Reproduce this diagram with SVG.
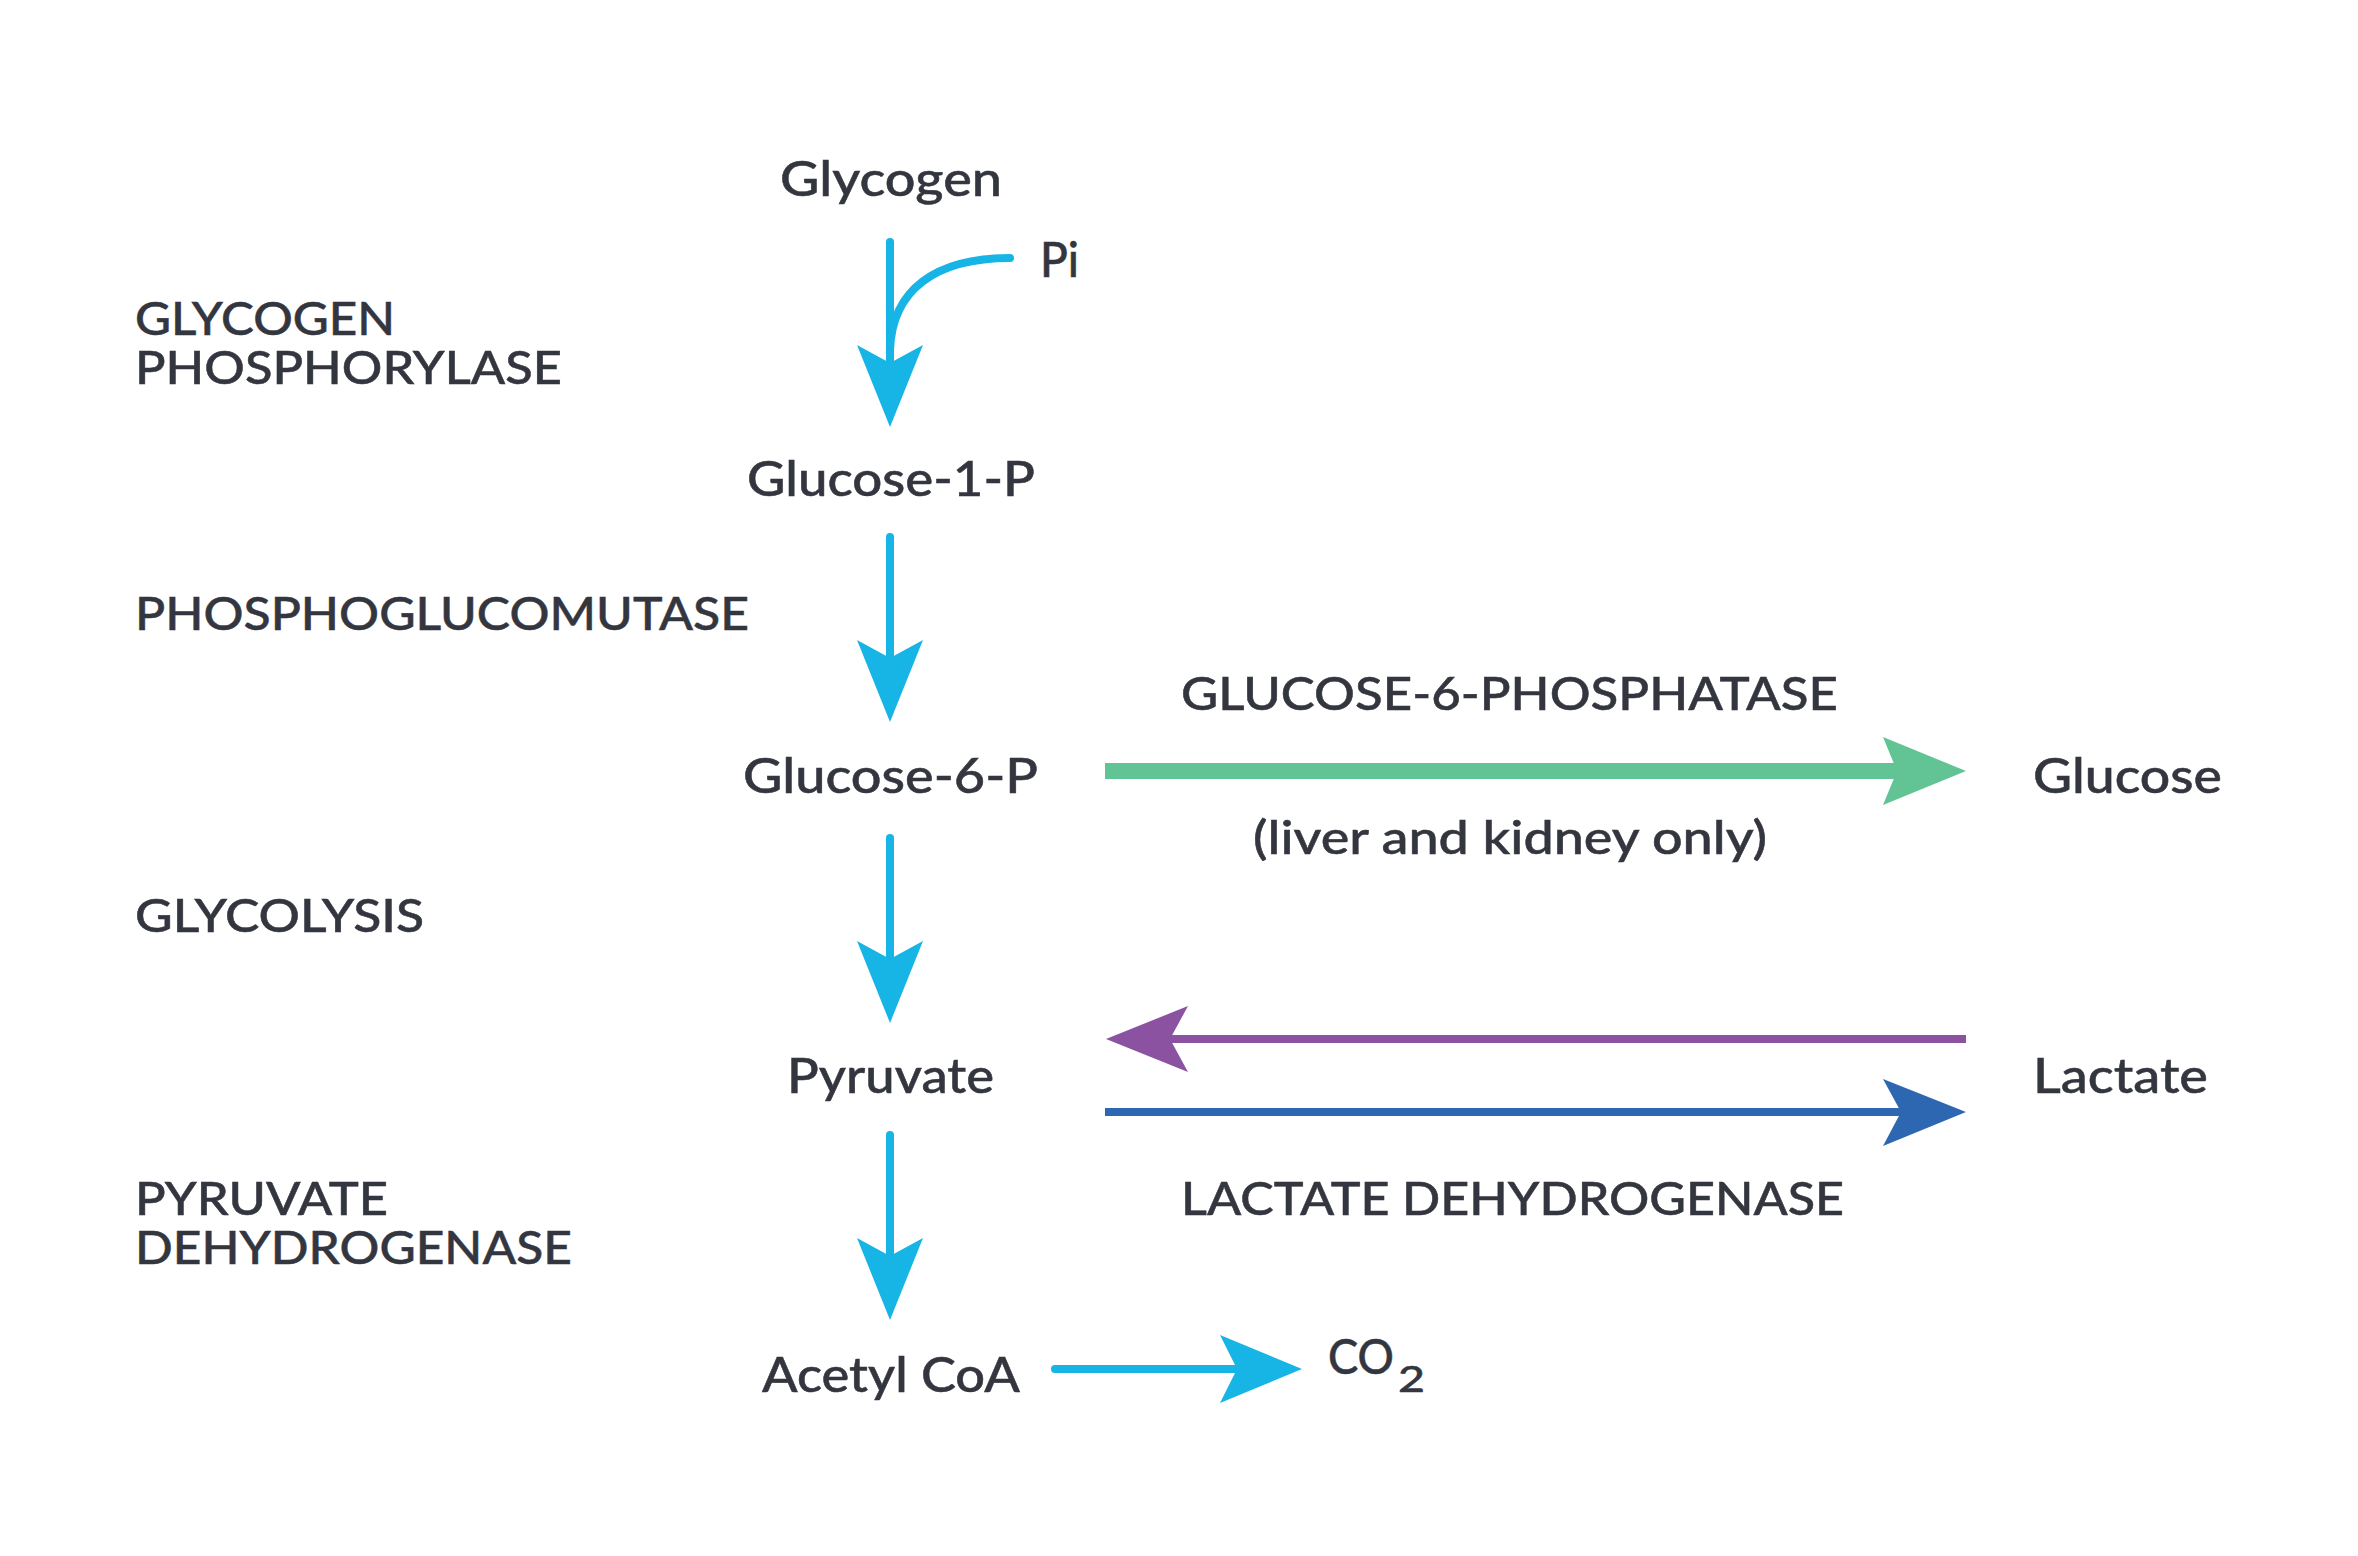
<svg xmlns="http://www.w3.org/2000/svg" width="2358" height="1556" viewBox="0 0 2358 1556">
  <style>
    text { font-family: Lato, "Open Sans", "Liberation Sans", sans-serif; fill: #34363f; font-weight: 500; stroke: #34363f; stroke-width: 0.5; }
    .node { font-size: 48px; }
    .enz { font-size: 46px; }
    .cy { stroke: #17b4e6; stroke-width: 8; fill: none; stroke-linecap: round; }
    .cyh { fill: #17b4e6; }
  </style>
  <rect width="2358" height="1556" fill="#ffffff"/>

  <g id="connectors">
    <!-- Glycogen -> Glucose-1-P -->
    <line class="cy" x1="890" y1="242" x2="890" y2="370"/>
    <path class="cy" d="M1010,258 C935,258 892,290 890,350"/>
    <polygon class="cyh" points="890,427 857,345 890,363 923,345"/>
    <!-- Glucose-1-P -> Glucose-6-P -->
    <line class="cy" x1="890" y1="537" x2="890" y2="665"/>
    <polygon class="cyh" points="890,722 857,640 890,658 923,640"/>
    <!-- Glucose-6-P -> Pyruvate -->
    <line class="cy" x1="890" y1="838" x2="890" y2="966"/>
    <polygon class="cyh" points="890,1023 857,941 890,959 923,941"/>
    <!-- Pyruvate -> Acetyl CoA -->
    <line class="cy" x1="890" y1="1135" x2="890" y2="1263"/>
    <polygon class="cyh" points="890,1320 857,1238 890,1256 923,1238"/>
    <!-- Acetyl CoA -> CO2 -->
    <line class="cy" x1="1055" y1="1369" x2="1240" y2="1369"/>
    <polygon class="cyh" points="1302,1369 1220,1335 1237,1369 1220,1403"/>
    <!-- Glucose-6-P -> Glucose -->
    <line x1="1105" y1="771" x2="1900" y2="771" stroke="#62c394" stroke-width="16"/>
    <polygon fill="#62c394" points="1966,771 1883,737 1897,771 1883,805"/>
    <!-- Lactate -> Pyruvate -->
    <line x1="1166" y1="1039" x2="1966" y2="1039" stroke="#8b52a1" stroke-width="8"/>
    <polygon fill="#8b52a1" points="1106,1039 1188,1006 1170,1039 1188,1072"/>
    <!-- Pyruvate -> Lactate -->
    <line x1="1105" y1="1112" x2="1905" y2="1112" stroke="#2e67b1" stroke-width="8"/>
    <polygon fill="#2e67b1" points="1966,1112 1883,1079 1901,1112 1883,1146"/>
  </g>

  <g id="glycogen"><text class="node" x="780" y="196" textLength="222" lengthAdjust="spacingAndGlyphs">Glycogen</text></g>
  <g id="pi"><text class="node" x="1040" y="277" textLength="39" lengthAdjust="spacingAndGlyphs">Pi</text></g>
  <g id="glucose-1-p"><text class="node" x="747" y="496" textLength="288" lengthAdjust="spacingAndGlyphs">Glucose-1-P</text></g>
  <g id="glucose-6-p"><text class="node" x="743" y="793" textLength="295" lengthAdjust="spacingAndGlyphs">Glucose-6-P</text></g>
  <g id="glucose"><text class="node" x="2033" y="793" textLength="189" lengthAdjust="spacingAndGlyphs">Glucose</text></g>
  <g id="pyruvate"><text class="node" x="787" y="1093" textLength="207" lengthAdjust="spacingAndGlyphs">Pyruvate</text></g>
  <g id="lactate"><text class="node" x="2033" y="1093" textLength="175" lengthAdjust="spacingAndGlyphs">Lactate</text></g>
  <g id="acetyl-coa"><text class="node" x="762" y="1392" textLength="258" lengthAdjust="spacingAndGlyphs">Acetyl CoA</text></g>
  <g id="co2">
    <text class="node" x="1328" y="1374" textLength="66" lengthAdjust="spacingAndGlyphs">CO</text>
    <text x="1398" y="1392" font-size="36" textLength="27" lengthAdjust="spacingAndGlyphs">2</text>
  </g>

  <g id="enzyme-glycogen-phosphorylase">
    <text class="enz" x="135" y="335" textLength="260" lengthAdjust="spacingAndGlyphs">GLYCOGEN</text>
    <text class="enz" x="135" y="384" textLength="427" lengthAdjust="spacingAndGlyphs">PHOSPHORYLASE</text>
  </g>
  <g id="enzyme-phosphoglucomutase">
    <text class="enz" x="135" y="630" textLength="614" lengthAdjust="spacingAndGlyphs">PHOSPHOGLUCOMUTASE</text>
  </g>
  <g id="enzyme-glycolysis">
    <text class="enz" x="135" y="932" textLength="289" lengthAdjust="spacingAndGlyphs">GLYCOLYSIS</text>
  </g>
  <g id="enzyme-pyruvate-dehydrogenase">
    <text class="enz" x="135" y="1215" textLength="253" lengthAdjust="spacingAndGlyphs">PYRUVATE</text>
    <text class="enz" x="135" y="1264" textLength="437" lengthAdjust="spacingAndGlyphs">DEHYDROGENASE</text>
  </g>
  <g id="enzyme-glucose-6-phosphatase">
    <text class="enz" x="1181" y="710" textLength="657" lengthAdjust="spacingAndGlyphs">GLUCOSE-6-PHOSPHATASE</text>
    <text class="enz" x="1253" y="854" textLength="514" lengthAdjust="spacingAndGlyphs">(liver and kidney only)</text>
  </g>
  <g id="enzyme-lactate-dehydrogenase">
    <text class="enz" x="1181" y="1215" textLength="663" lengthAdjust="spacingAndGlyphs">LACTATE DEHYDROGENASE</text>
  </g>
</svg>
